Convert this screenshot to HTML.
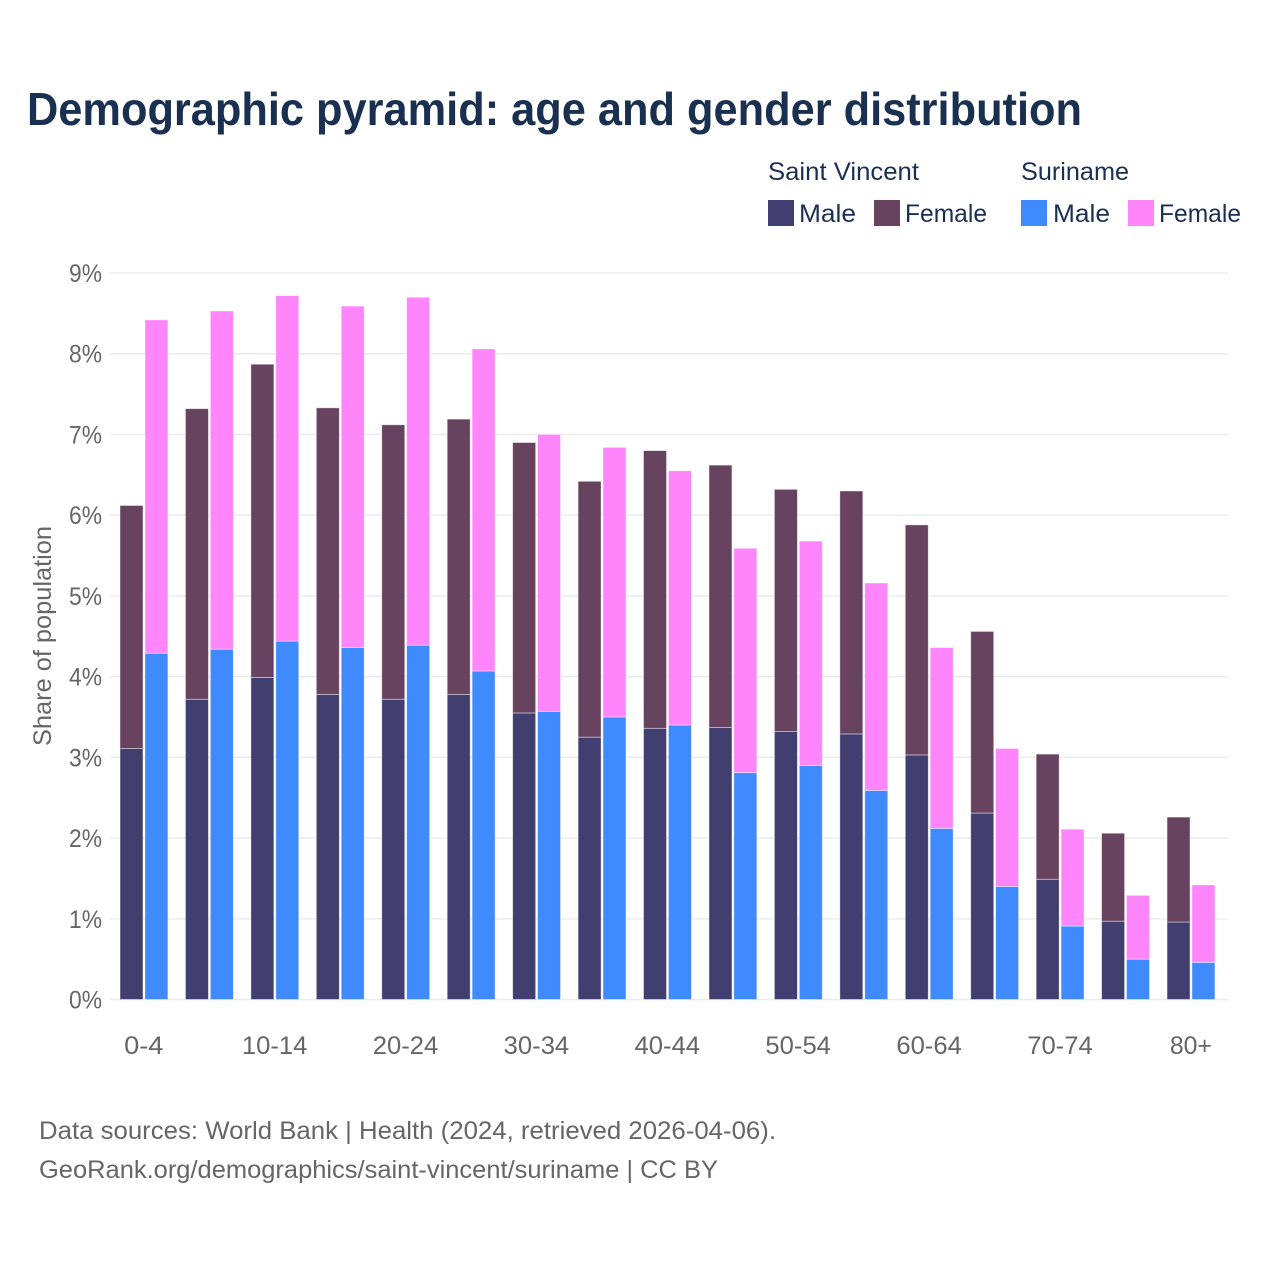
<!DOCTYPE html>
<html lang="en">
<head>
<meta charset="utf-8">
<title>Demographic pyramid</title>
<style>
html,body{margin:0;padding:0;background:#fff;width:1280px;height:1280px;overflow:hidden}
svg{display:block}
text{font-family:"Liberation Sans",sans-serif}
</style>
</head>
<body>
<svg id="chart" xmlns="http://www.w3.org/2000/svg" width="1280" height="1280" viewBox="0 0 1280 1280">
  <rect width="1280" height="1280" fill="#fff"/>
  <text x="27" y="125" font-size="46" font-weight="700" fill="#1a3050" textLength="1055" lengthAdjust="spacingAndGlyphs">Demographic pyramid: age and gender distribution</text>

  <g font-size="25" fill="#1a3050">
    <text x="768" y="180" textLength="151" lengthAdjust="spacingAndGlyphs">Saint Vincent</text>
    <text x="1021" y="180" textLength="108" lengthAdjust="spacingAndGlyphs">Suriname</text>
    <rect x="768" y="200" width="26" height="26" fill="#413f70"/>
    <text x="799" y="222" textLength="57" lengthAdjust="spacingAndGlyphs">Male</text>
    <rect x="874" y="200" width="26" height="26" fill="#684360"/>
    <text x="905" y="222" textLength="82" lengthAdjust="spacingAndGlyphs">Female</text>
    <rect x="1021" y="200" width="26" height="26" fill="#3f8aff"/>
    <text x="1053" y="222" textLength="57" lengthAdjust="spacingAndGlyphs">Male</text>
    <rect x="1128" y="200" width="26" height="26" fill="#ff85fa"/>
    <text x="1159" y="222" textLength="82" lengthAdjust="spacingAndGlyphs">Female</text>
  </g>

  <g id="grid"></g>
  <g id="yticks"></g>
  <g id="bars"></g>
  <g id="xticks"></g>

  <text transform="translate(51,636) rotate(-90)" text-anchor="middle" font-size="25" fill="#666" textLength="220" lengthAdjust="spacingAndGlyphs">Share of population</text>

  <text x="39" y="1139" font-size="25" fill="#666" textLength="737" lengthAdjust="spacingAndGlyphs">Data sources: World Bank | Health (2024, retrieved 2026-04-06).</text>
  <text x="39" y="1178" font-size="25" fill="#666" textLength="679" lengthAdjust="spacingAndGlyphs">GeoRank.org/demographics/saint-vincent/suriname | CC BY</text>
</svg>
<script>
const categories = ['0-4','5-9','10-14','15-19','20-24','25-29','30-34','35-39','40-44','45-49','50-54','55-59','60-64','65-69','70-74','75-79','80+'];
const saintVincentMale = [3.11,3.72,3.99,3.78,3.72,3.78,3.55,3.25,3.36,3.37,3.32,3.29,3.03,2.31,1.49,0.97,0.96];
const saintVincentFemale = [3.01,3.60,3.88,3.55,3.40,3.41,3.35,3.17,3.44,3.25,3.00,3.01,2.85,2.25,1.55,1.09,1.30];
const surinameMale = [4.29,4.34,4.44,4.36,4.39,4.07,3.57,3.50,3.40,2.81,2.90,2.59,2.12,1.40,0.91,0.50,0.46];
const surinameFemale = [4.13,4.19,4.28,4.23,4.31,3.99,3.43,3.34,3.15,2.78,2.78,2.57,2.24,1.71,1.20,0.79,0.96];
const yTickValues = [0,1,2,3,4,5,6,7,8,9];
const yTickLabels = ['0%','1%','2%','3%','4%','5%','6%','7%','8%','9%'];

const NS = 'http://www.w3.org/2000/svg';
const COLORS = {svm:'#413f70', svf:'#684360', srm:'#3f8aff', srf:'#ff85fa'};
function yScale(v){ return 999.5 - v * 80.72; }
function groupX(i){ return 120 + i * 65.44; }

const grid = document.getElementById('grid');
const yticks = document.getElementById('yticks');
yTickValues.forEach(function(v, i){
  const line = document.createElementNS(NS, 'line');
  
  
  line.setAttribute('x1', 110);
  line.setAttribute('x2', 1228);
  line.setAttribute('y1', yScale(v));
  line.setAttribute('y2', yScale(v));
  line.setAttribute('stroke', '#ebebeb');
  line.setAttribute('stroke-width', 1.4);
  grid.appendChild(line);

  const t = document.createElementNS(NS, 'text');
  
  
  t.setAttribute('x', 102);
  t.setAttribute('y', yScale(v) + 9);
  t.setAttribute('text-anchor', 'end');
  t.setAttribute('font-size', 25);
  t.setAttribute('fill', '#666');
  t.setAttribute('textLength', 33);
  t.setAttribute('lengthAdjust', 'spacingAndGlyphs');
  t.textContent = yTickLabels[i];
  yticks.appendChild(t);
});

const bars = document.getElementById('bars');
function addBar(name, x, bottom, value, color){
  const r = document.createElementNS(NS, 'rect');
  
  
  r.setAttribute('x', x);
  r.setAttribute('y', yScale(bottom + value));
  r.setAttribute('width', 23);
  r.setAttribute('height', yScale(bottom) - yScale(bottom + value));
  r.setAttribute('fill', color);
  r.setAttribute('stroke', '#ffffff');
  r.setAttribute('stroke-opacity', 0.55);
  r.setAttribute('stroke-width', 0.8);
  bars.appendChild(r);
}
const xticks = document.getElementById('xticks');
categories.forEach(function(c, i){
  const x = groupX(i);
  addBar('bar-saint-vincent-male-' + c, x, 0, saintVincentMale[i], COLORS.svm);
  addBar('bar-saint-vincent-female-' + c, x, saintVincentMale[i], saintVincentFemale[i], COLORS.svf);
  addBar('bar-suriname-male-' + c, x + 24.9, 0, surinameMale[i], COLORS.srm);
  addBar('bar-suriname-female-' + c, x + 24.9, surinameMale[i], surinameFemale[i], COLORS.srf);
  if (i % 2 === 0) {
    const t = document.createElementNS(NS, 'text');
    
    
    t.setAttribute('x', x + 23.8);
    t.setAttribute('y', 1054);
    t.setAttribute('text-anchor', 'middle');
    t.setAttribute('font-size', 25);
    t.setAttribute('fill', '#666');
    t.setAttribute('textLength', c === '80+' ? 42 : c.length * 13.1);
    t.setAttribute('lengthAdjust', 'spacingAndGlyphs');
    t.textContent = c;
    xticks.appendChild(t);
  }
});
</script>
</body>
</html>
